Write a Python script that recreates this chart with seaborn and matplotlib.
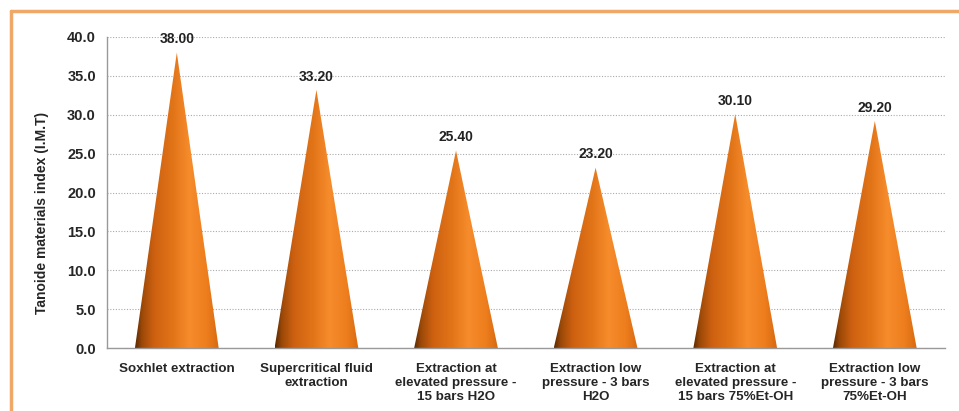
import numpy as np
import pandas as pd
import seaborn as sns
import matplotlib.pyplot as plt
from matplotlib.colors import LinearSegmentedColormap
from matplotlib.lines import Line2D

methods = [
    "Soxhlet extraction",
    "Supercritical fluid\nextraction",
    "Extraction at\nelevated pressure -\n15 bars H2O",
    "Extraction low\npressure - 3 bars\nH2O",
    "Extraction at\nelevated pressure -\n15 bars 75%Et-OH",
    "Extraction low\npressure - 3 bars\n75%Et-OH",
]
imt = [38.00, 33.20, 25.40, 23.20, 30.10, 29.20]
yticks = [0, 5, 10, 15, 20, 25, 30, 35, 40]

df = pd.DataFrame({"method": methods, "imt": imt})

sns.set_style("white")
plt.rcParams["font.family"] = ["Liberation Sans", "DejaVu Sans"]
plt.rcParams["font.weight"] = "bold"

fig = plt.figure(figsize=(9.59, 4.11), dpi=100)
ax = fig.add_axes([0.1116, 0.153, 0.8734, 0.757])

sns.barplot(data=df, x="method", y="imt", width=0.6, color="#e07a20", ax=ax)

# cone shading: narrow dark left edge, bright orange right of centre
cone_cmap = LinearSegmentedColormap.from_list(
    "cone", [(0.0, "#5a2800"), (0.08, "#9a4808"), (0.22, "#cc6010"),
             (0.45, "#e27418"), (0.65, "#f68c2c"), (0.85, "#ee7e1e"),
             (1.0, "#d86a10")])
grad = np.linspace(0, 1, 256).reshape(1, -1)

for bar in list(ax.patches):
    x0 = bar.get_x()
    w = bar.get_width()
    h = bar.get_height()
    bar.set_visible(False)
    tri = plt.Polygon([(x0, 0), (x0 + w, 0), (x0 + w / 2, h)], closed=True,
                      facecolor="none", edgecolor="none")
    ax.add_patch(tri)
    im = ax.imshow(grad, cmap=cone_cmap, extent=[x0, x0 + w, 0, h],
                   aspect="auto", zorder=2, interpolation="bilinear")
    im.set_clip_path(tri)
    ax.text(x0 + w / 2, h + 0.8, f"{h:.2f}", ha="center", va="bottom",
            fontsize=10, fontweight="bold", color="#222222")

ax.set_xlim(-0.5, len(methods) - 0.5)
ax.set_ylim(0, 40)
ax.set_yticks(yticks)
ax.set_yticklabels([f"{v:.1f}" for v in yticks], fontsize=10.5, fontweight="bold")
ax.set_xticks(range(len(methods)))
ax.set_xticklabels(methods, fontsize=9.6, fontweight="bold")
ax.set_xticks(np.arange(-0.5, len(methods), 1), minor=True)
ax.tick_params(axis="x", which="major", length=0, pad=11)
ax.tick_params(axis="x", which="minor", length=3, color="#999999")
ax.tick_params(axis="y", length=4, color="#999999", pad=4)

ax.yaxis.grid(True, linestyle=(0, (1, 1.5)), color="#aaaaaa", linewidth=0.8)
ax.set_axisbelow(True)
for s in ["top", "right"]:
    ax.spines[s].set_visible(False)
for s in ["left", "bottom"]:
    ax.spines[s].set_color("#999999")
    ax.spines[s].set_linewidth(1)

ax.set_xlabel("")
ax.set_ylabel("Tanoide materials index (I.M.T)", fontsize=10, fontweight="bold")
ax.yaxis.set_label_coords(-0.069, 0.434)

# orange frame, only top and left edges are inside the image
fx, fy = 11 / 959, 1 - 11 / 411
fig.lines.append(Line2D([fx, 1], [fy, fy], transform=fig.transFigure,
                        color="#f0a868", linewidth=2.5))
fig.lines.append(Line2D([fx, fx], [0, fy], transform=fig.transFigure,
                        color="#f0a868", linewidth=2.5))

fig.savefig("out.png", dpi=100)
